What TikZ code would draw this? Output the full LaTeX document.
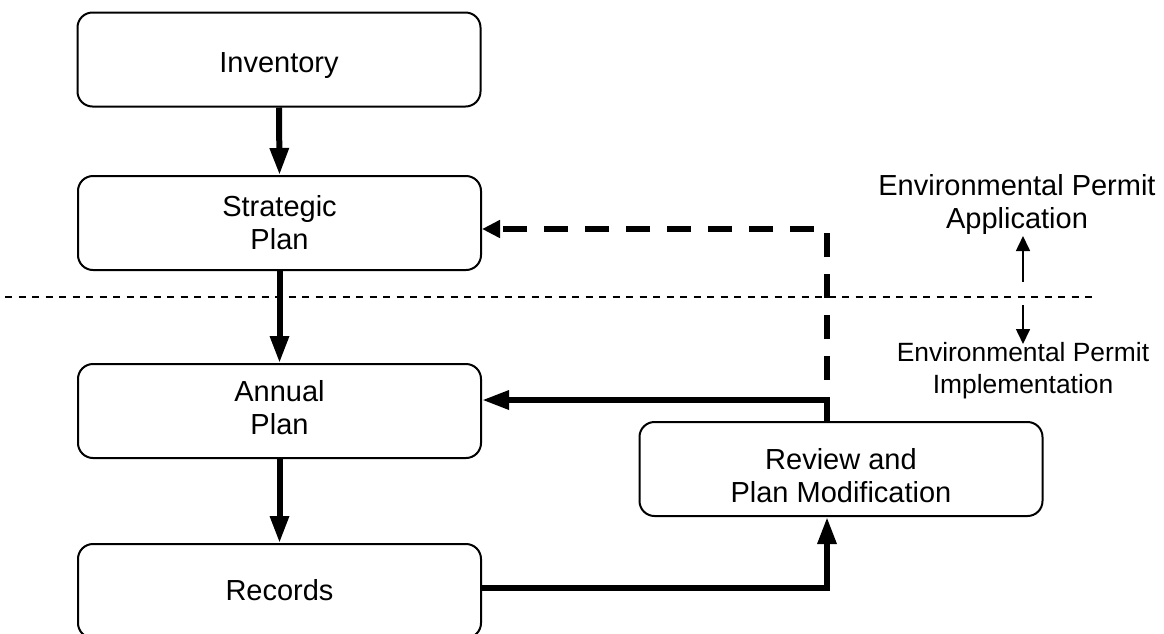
\documentclass[tikz,border=0pt]{standalone}
\usepackage{fontspec}
\setmainfont{Liberation Sans}
\usetikzlibrary{arrows.meta}
\begin{document}
\begin{tikzpicture}[x=1pt,y=-1pt,
  box/.style={draw, line width=2pt, rounded corners=15pt, minimum width=403pt,
    minimum height=94pt, inner sep=0pt},
  boxtext/.style={align=center, inner sep=0pt, font=\fontsize{29}{33}\selectfont},
  flow/.style={line width=6pt, -{Triangle[length=27pt,width=18pt]}},
  flowdash/.style={line width=6pt, dash pattern=on 24pt off 17pt,
    -{Triangle[length=18pt,width=17pt]}},
  thinarrow/.style={line width=1.6pt, -{Triangle[length=15pt,width=14pt]}},
  sepline/.style={line width=1.6pt, dash pattern=on 7pt off 6.5pt},
  lbl/.style={align=center, inner sep=0pt}]
\useasboundingbox (0,0) rectangle (1164,633);

\node[box] (inv) at (279,59.5) {};
\node[box] (str) at (279.5,223) {};
\node[box] (ann) at (279.5,411) {};
\node[box] (rec) at (279.5,591) {};
\node[box] (rev) at (841,469) {};

\node[boxtext] (invt) at ([yshift=-6pt]inv.center) {Inventory};
\node[boxtext] (strt) at ([yshift=0pt]str.center) {Strategic\\Plan};
\node[boxtext] (annt) at ([yshift=3pt]ann.center) {Annual\\Plan};
\node[boxtext] (rect) at ([yshift=1pt]rec.center) {Records};
\node[boxtext] (revt) at ([yshift=-7pt]rev.center) {Review and\\Plan Modification};

\node[lbl, font=\fontsize{29}{33}\selectfont] (app) at (1017,204) {Environmental Permit\\Application};
\node[lbl, font=\fontsize{26.4}{32}\selectfont] (imp) at (1023,371) {Environmental Permit\\Implementation};

\coordinate (sl) at (5,297);
\coordinate (sr) at (1095,297);
\draw[sepline] (sl) -- (sr);

\coordinate (upfrom) at (1023,282);
\coordinate (upto) at (1023,236);
\coordinate (dnfrom) at (1023,305);
\coordinate (dnto) at (1023,344);
\draw[thinarrow] (upfrom) -- (upto);
\draw[thinarrow] (dnfrom) -- (dnto);

\draw[flow] (inv.south) -- (str.north);
\draw[flow] (str.south) -- (ann.north);
\draw[flow] (ann.south) -- (rec.north);

\coordinate (j) at (827,400);
\coordinate (c) at (827,229);
\draw[flowdash] (j |- rev.north) -- (c) -- (c -| str.east);
\draw[flow] (j |- rev.north) -- (j) -- (j -| ann.east);
\draw[flow] (rec.east |- 0,588) -| (j |- rev.south);
\end{tikzpicture}
\end{document}
